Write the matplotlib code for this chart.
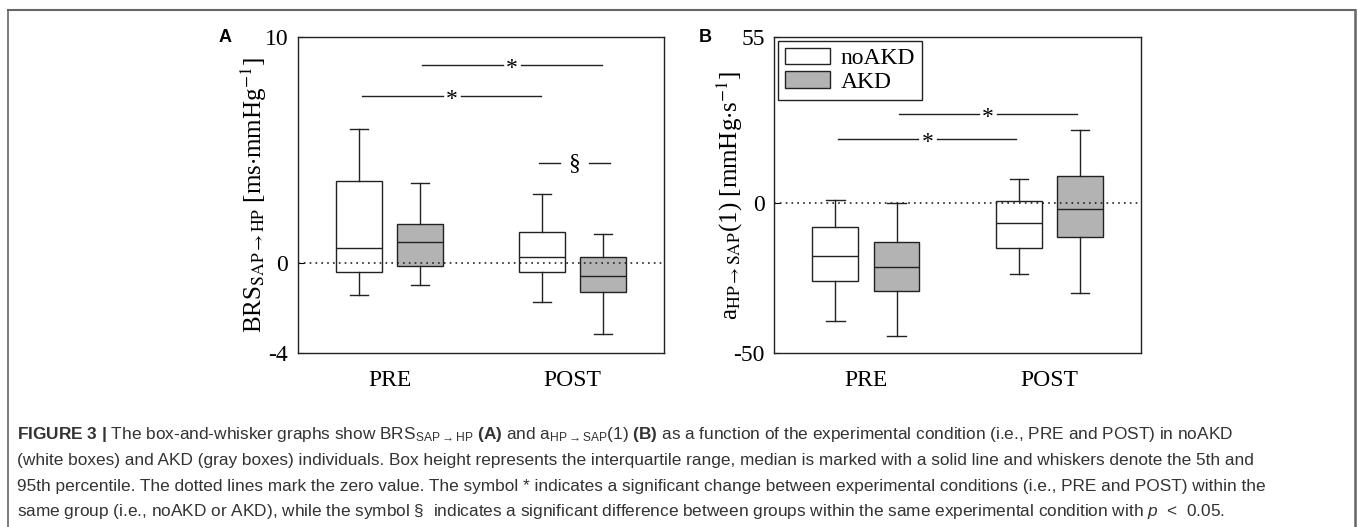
import matplotlib
matplotlib.use('Agg')
import matplotlib.pyplot as plt
from matplotlib.lines import Line2D
from matplotlib.patches import Patch

plt.rcParams['font.family'] = 'Liberation Serif'
plt.rcParams['axes.unicode_minus'] = False
plt.rcParams['mathtext.fontset'] = 'custom'
plt.rcParams['mathtext.rm'] = 'Liberation Sans'
plt.rcParams['mathtext.it'] = 'Liberation Sans:italic'
plt.rcParams['mathtext.bf'] = 'Liberation Sans:bold'

conditions = ['PRE', 'POST']
groups = ['noAKD', 'AKD']

# box stats per condition (PRE, POST): [p5, q1, median, q3, p95]
brs_noakd = [[-1.42, -0.43, 0.65, 3.62, 5.91], [-1.74, -0.43, 0.27, 1.35, 3.03]]
brs_akd = [[-0.97, -0.15, 0.90, 1.73, 3.53], [-3.15, -1.31, -0.59, 0.27, 1.26]]
a_noakd = [[-39.5, -26.0, -17.8, -8.0, 0.8], [-23.7, -15.0, -6.9, 0.4, 7.8]]
a_akd = [[-44.3, -29.3, -21.3, -13.2, 0.0], [-29.9, -11.5, -2.1, 8.9, 24.2]]

# significance bars: (x from, x to, height, symbol)
brs_sig = [(0.85, 1.83, 7.39, '*'), (1.18, 2.16, 8.75, '*'), (1.815, 2.205, 4.43, '§')]
a_sig = [(0.85, 1.82, 21.1, '*'), (1.18, 2.15, 29.4, '*')]

FS = 17
EDGE = '#222222'
GRAY = '#b3b3b3'


def to_stats(rows):
    return [dict(whislo=r[0], q1=r[1], med=r[2], q3=r[3], whishi=r[4], fliers=[]) for r in rows]


def draw_panel(ax, noakd, akd, ylim, yticks, ylabel, sig, legend=False):
    xs = [1, 2]
    for data, off, fc in [(noakd, -1 / 6, 'white'), (akd, 1 / 6, GRAY)]:
        ax.bxp(to_stats(data), positions=[x + off for x in xs], widths=0.25,
               patch_artist=True, showfliers=False, manage_ticks=False, capwidths=0.1,
               boxprops=dict(facecolor=fc, edgecolor=EDGE, lw=1.0),
               medianprops=dict(color=EDGE, lw=1.0),
               whiskerprops=dict(color=EDGE, lw=1.0),
               capprops=dict(color=EDGE, lw=1.0))
    ax.axhline(0, color=EDGE, lw=1.2, ls=(0, (1, 2.5)), zorder=5)
    for x0, x1, y, sym in sig:
        xm = (x0 + x1) / 2
        gap = 0.05 if sym == '*' else 0.078
        ax.plot([x0, xm - gap], [y, y], color=EDGE, lw=1.0)
        ax.plot([xm + gap, x1], [y, y], color=EDGE, lw=1.0)
        dy = -6.5 if sym == '*' else -4.8
        ax.annotate(sym, (xm, y), xytext=(0, dy), textcoords='offset points',
                    ha='center', va='baseline', fontsize=FS)
    ax.set_xlim(0.5, 2.5)
    ax.set_ylim(*ylim)
    ax.set_xticks(xs)
    ax.set_xticklabels(conditions)
    ax.set_yticks(yticks)
    ax.tick_params(axis='x', length=0, pad=12, labelsize=FS)
    ax.tick_params(axis='y', direction='in', length=4, pad=7, labelsize=FS)
    for s in ax.spines.values():
        s.set_linewidth(1.0)
        s.set_color(EDGE)
    ax.set_ylabel(ylabel, fontsize=18, math_fontfamily='stix', va='center')
    ax.yaxis.set_label_coords(-0.122, 0.5)
    if legend:
        handles = [Patch(facecolor='white', edgecolor=EDGE, lw=1.0),
                   Patch(facecolor=GRAY, edgecolor=EDGE, lw=1.0)]
        lg = ax.legend(handles, groups, loc='upper left', fontsize=FS, fancybox=False,
                       edgecolor=EDGE, framealpha=1, borderaxespad=0.15, borderpad=0.3,
                       handlelength=1.9, handleheight=0.68, handletextpad=0.45,
                       labelspacing=0.1)
        lg.get_frame().set_linewidth(1.0)


fig = plt.figure(figsize=(13.58, 5.27), dpi=100)
W, H = 1358, 527
axA = fig.add_axes([298 / W, 1 - 353 / H, 366 / W, 316 / H])
axB = fig.add_axes([774.3 / W, 1 - 353 / H, 366.7 / W, 316 / H])

draw_panel(axA, brs_noakd, brs_akd, (-4, 10), [-4, 0, 10],
           r'BRS$_{\mathrm{SAP}\rightarrow\mathrm{HP}}$ [ms$\cdot$mmHg$^{\mathrm{-1}}$]', brs_sig)
draw_panel(axB, a_noakd, a_akd, (-50, 55), [-50, 0, 55],
           r'a$_{\mathrm{HP}\rightarrow\mathrm{SAP}}$(1) [mmHg$\cdot$s$^{\mathrm{-1}}$]', a_sig, legend=True)

fig.text(225.5 / W, 1 - 37 / H, 'A', family='Liberation Sans', weight='bold', fontsize=13,
         ha='center', va='center')
fig.text(705 / W, 1 - 37 / H, 'B', family='Liberation Sans', weight='bold', fontsize=13,
         ha='center', va='center')

# page frame
fc = '#666666'
fig.add_artist(Line2D([8 / W, 1355 / W], [1 - 10 / H] * 2, transform=fig.transFigure, color=fc, lw=1.5))
fig.add_artist(Line2D([8 / W] * 2, [1 - 10 / H, 0], transform=fig.transFigure, color=fc, lw=1.2))
fig.add_artist(Line2D([1355 / W] * 2, [1 - 10 / H, 0], transform=fig.transFigure, color=fc, lw=1.8))

caption = [
    r'$\mathbf{FIGURE\ 3\ |}$ The box-and-whisker graphs show BRS$_{\mathrm{SAP\rightarrow HP}}$ '
    r'$\mathbf{(A)}$ and a$_{\mathrm{HP\rightarrow SAP}}$(1) $\mathbf{(B)}$ as a function of the '
    r'experimental condition (i.e., PRE and POST) in noAKD',
    '(white boxes) and AKD (gray boxes) individuals. Box height represents the interquartile range, '
    'median is marked with a solid line and whiskers denote the 5th and',
    '95th percentile. The dotted lines mark the zero value. The symbol * indicates a significant change '
    'between experimental conditions (i.e., PRE and POST) within the',
    r'same group (i.e., noAKD or AKD), while the symbol §  indicates a significant difference between '
    r'groups within the same experimental condition with $p$  <  0.05.',
]
baselines = [439, 465, 490.5, 516]
for line, yb in zip(caption, baselines):
    fig.text(17 / W, 1 - yb / H, line, family='Liberation Sans', fontsize=12.4, color='#333333',
             ha='left', va='baseline', math_fontfamily='custom')

fig.savefig('out.png', dpi=100)
